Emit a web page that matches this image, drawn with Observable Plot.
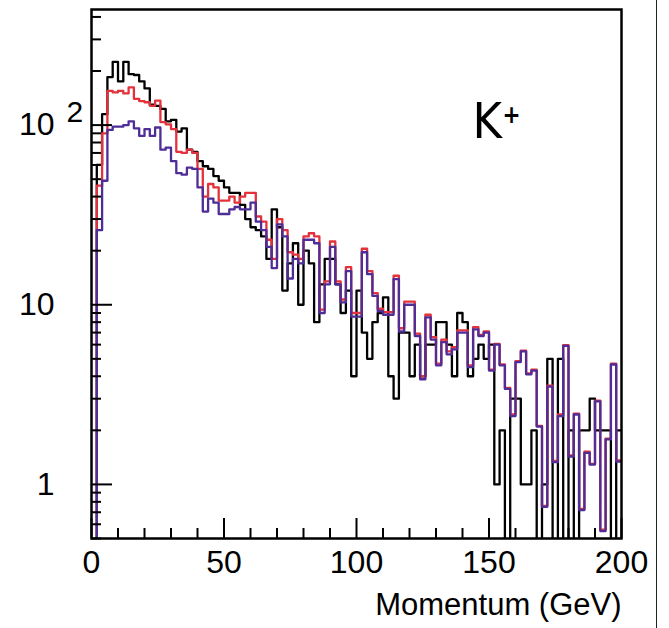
<!DOCTYPE html>
<html><head><meta charset="utf-8">
<script src="https://cdn.jsdelivr.net/npm/d3@7"></script>
<script src="https://cdn.jsdelivr.net/npm/@observablehq/plot@0.6"></script>
<style>
html,body{margin:0;padding:0;background:#fff;}
#chart{position:relative;width:669px;height:628px;overflow:hidden;}
#chart svg{position:absolute;left:0;top:0;}
#edge{position:absolute;left:656px;top:0;width:1px;height:628px;background:#222;}
</style></head><body>
<div id="chart"><div id="edge"></div></div>
<script>
// bin width in GeV (100 bins from 0 to 200)
const binWidth = 2;
const black = [
  0, 60, 115, 185, 225, 175, 225, 192, 190, 175,
  160, 130, 128, 123, 105, 107, 92, 96, 73, 71,
  63, 59, 57, 52, 49, 45, 42, 42, 36, 30,
  27, 26, 24, 18, 34, 27, 12, 17, 22, 10,
  20, 17, 8, 13, 18, 18, 13, 9, 12, 4,
  12, 7, 5, 8, 9, 11, 4, 3, 7, 7,
  4, 6, 4, 6, 6, 8, 8, 6, 4, 9,
  8, 4, 5, 6, 5, 6, 1, 2, 0, 3,
  3, 1, 1, 2, 0, 1, 5, 0, 5, 0,
  2, 0, 2, 2, 3, 2, 2, 2, 0, 2
];
const red = [
  0, 46, 90, 155, 152, 155, 150, 162, 140, 136,
  134, 128, 137, 104, 101, 95, 71, 70, 73, 70,
  57, 40, 47, 45, 38, 38, 40, 37, 40, 42,
  42, 31, 29, 23, 18, 30, 26, 19.6, 19, 18,
  24, 25, 24, 9.4, 13.5, 22.5, 13.5, 10.7, 16.2, 9.0,
  9.0, 20.5, 15.4, 11.6, 9.5, 9.1, 9.1, 14.5, 7.4, 10.4,
  10.4, 6.9, 4.0, 8.8, 6.6, 4.7, 6.4, 5.5, 5.8, 7.2,
  7.2, 4.6, 7.5, 6.8, 7.1, 4.35, 6.05, 4.65, 3.45, 2.45,
  4.85, 5.55, 4.15, 4.35, 2.12, 0.76, 3.55, 1.35, 2.45, 5.95,
  1.45, 2.48, 0.73, 1.52, 1.3, 2.93, 0.56, 1.8, 4.7, 1.36
];
const purple = [
  0, 26, 49, 94, 98, 98, 100, 105, 96, 87,
  95, 87, 97, 73, 75, 63, 54, 53, 58, 57,
  45, 33, 39, 37, 32, 32, 34, 35, 34, 34,
  37, 29, 26, 21, 16, 28, 24, 14, 18, 17,
  23, 23, 22, 9, 13, 21, 13, 10.3, 15.4, 8.6,
  8.6, 19.6, 14.8, 11.2, 9.2, 8.8, 8.8, 13.9, 7.1, 10,
  10, 6.7, 3.85, 8.5, 6.4, 4.6, 6.2, 5.3, 5.65, 7,
  7, 4.5, 7.3, 6.7, 7, 4.3, 6, 4.6, 3.4, 2.4,
  4.8, 5.5, 4.1, 4.3, 2.1, 0.75, 3.5, 1.33, 2.4, 5.9,
  1.43, 2.45, 0.72, 1.5, 1.29, 2.9, 0.55, 1.78, 4.65, 1.34
];
const xTickLabels = [0, 50, 100, 150, 200];
const xMajorTicks = [0, 50, 100, 150, 200];
const xMinorTicks = [10, 20, 30, 40, 60, 70, 80, 90, 110, 120, 130, 140, 160, 170, 180, 190];
const yMajorTicks = [1, 10, 100];
const yMinorTicks = [0.5, 0.6, 0.7, 0.8, 0.9, 2, 3, 4, 5, 6, 7, 8, 9, 20, 30, 40, 50, 60, 70, 80, 90, 200, 300, 400];
const yTickLabels = [{v: 1, t: "1"}, {v: 10, t: "10"}, {v: 100, t: "10"}];
const yExponents = [{v: 100, t: "2"}];
const xTitle = "Momentum (GeV)";
const particle = "K";
const particleCharge = "+";

const floor = 0.01;
function steps(values) {
  const pts = values.map((v, i) => ({x: i * binWidth, y: Math.max(v, floor)}));
  pts.push({x: values.length * binWidth, y: Math.max(values[values.length - 1], floor)});
  return pts;
}

const W = 669, H = 628, mL = 91, mR = 48, mT = 9, mB = 90;
const fw = W - mL - mR, fh = H - mT - mB;
const font = "'Liberation Sans', Arial, Helvetica, sans-serif";
const kFont = "'DejaVu Sans Condensed', 'DejaVu Sans', sans-serif";

const chart = Plot.plot({
  width: W, height: H,
  marginLeft: mL, marginRight: mR, marginTop: mT, marginBottom: mB,
  style: {background: "transparent", fontFamily: font, overflow: "visible"},
  x: {domain: [0, 200], axis: null},
  y: {type: "log", domain: [0.5, 440], axis: null},
  marks: [
    Plot.line(steps(black), {x: "x", y: "y", curve: "step-after", stroke: "#000", strokeWidth: 2.3, clip: true}),
    Plot.line(steps(red), {x: "x", y: "y", curve: "step-after", stroke: "#e3323c", strokeWidth: 2.3, clip: true}),
    Plot.line(steps(purple), {x: "x", y: "y", curve: "step-after", stroke: "#4f2d97", strokeWidth: 2.3, clip: true}),
    Plot.tickX(xMinorTicks, {x: d => d, insetTop: fh - 10, stroke: "#000", strokeWidth: 2}),
    Plot.tickX(xMajorTicks, {x: d => d, insetTop: fh - 20, stroke: "#000", strokeWidth: 2}),
    Plot.tickY(yMinorTicks, {y: d => d, insetRight: fw - 10, stroke: "#000", strokeWidth: 2}),
    Plot.tickY(yMajorTicks, {y: d => d, insetRight: fw - 21, stroke: "#000", strokeWidth: 2}),
    Plot.frame({stroke: "#000", strokeWidth: 2.5}),
    Plot.text(xTickLabels, {x: d => d, text: d => String(d), frameAnchor: "bottom", dy: 34, fontSize: 32, fill: "#000"}),
    Plot.text(yTickLabels, {y: "v", text: "t", frameAnchor: "left", dx: -37, textAnchor: "end", fontSize: 32, fill: "#000"}),
    Plot.text(yExponents, {y: "v", text: "t", frameAnchor: "left", dx: -25, dy: -13, textAnchor: "start", fontSize: 30, fill: "#000"}),
    Plot.text([xTitle], {frameAnchor: "bottom-right", dy: 76, textAnchor: "end", text: d => d, fontSize: 31, fill: "#000"}),
    Plot.text([particle], {frameAnchor: "top-left", dx: 381, dy: 93, text: d => d, fontSize: 50, fontFamily: kFont, fill: "#000", textAnchor: "start"}),
    Plot.text([particleCharge], {frameAnchor: "top-left", dx: 411, dy: 96, text: d => d, fontSize: 24, fontFamily: kFont, fontWeight: "bold", fill: "#000", textAnchor: "start"})
  ]
});
document.getElementById("chart").appendChild(chart);
</script>
</body></html>
